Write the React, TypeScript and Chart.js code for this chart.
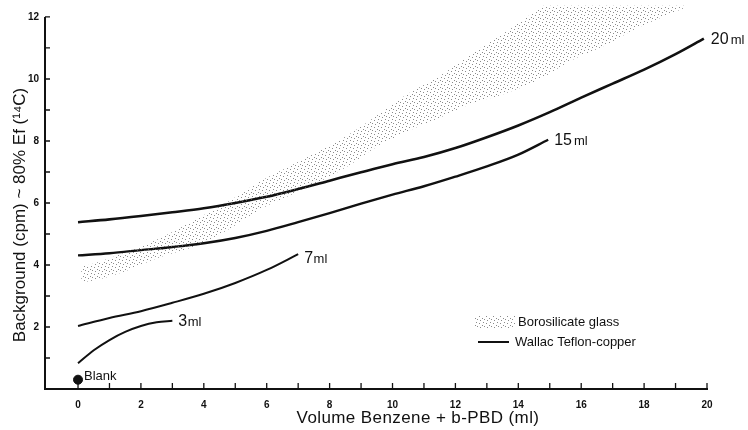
import React, { useEffect, useRef } from "react";
import { Chart, registerables } from "chart.js";

Chart.register(...registerables);

// ---- data ----
const xTickValues = [0, 1, 2, 3, 4, 5, 6, 7, 8, 9, 10, 11, 12, 13, 14, 15, 16, 17, 18, 19, 20];
const yTickValues = [0, 1, 2, 3, 4, 5, 6, 7, 8, 9, 10, 11, 12];

const ml20X = [0, 1, 2, 3, 4, 5, 6, 7, 8, 9, 10, 11, 12, 13, 14, 15, 16, 17, 18, 19, 19.9];
const ml20Y = [5.38, 5.47, 5.58, 5.7, 5.83, 6.0, 6.2, 6.45, 6.72, 6.99, 7.25, 7.48, 7.77, 8.12, 8.5, 8.93, 9.4, 9.85, 10.3, 10.8, 11.3];

const ml15X = [0, 1, 2, 3, 4, 5, 6, 7, 8, 9, 10, 11, 12, 13, 14, 14.95];
const ml15Y = [4.31, 4.38, 4.48, 4.58, 4.7, 4.87, 5.1, 5.38, 5.67, 5.98, 6.27, 6.54, 6.85, 7.18, 7.56, 8.04];

const ml7X = [0, 1, 2, 3, 4, 5, 6, 7];
const ml7Y = [2.03, 2.29, 2.51, 2.78, 3.07, 3.42, 3.84, 4.35];

const ml3X = [0, 0.5, 1, 1.5, 2, 2.5, 3];
const ml3Y = [0.83, 1.25, 1.58, 1.84, 2.03, 2.15, 2.2];

const glassX = [0.1, 0.5, 1.5, 2.6, 3.7, 4.7, 5.8, 6.85, 7.9, 8.6, 9.4, 10.45, 11.5, 12.5, 13.5, 14.7, 15.7, 16.8, 17.7, 19.3];
const glassLow = [3.45, 3.5, 3.8, 4.25, 4.6, 5.1, 5.8, 6.3, 6.8, 7.2, 7.75, 8.3, 8.75, 9.2, 9.5, 10.0, 10.6, 11.1, 11.6, 12.3];
const glassHigh = [3.95, 4.05, 4.4, 4.86, 5.45, 6.0, 6.7, 7.25, 7.8, 8.2, 8.75, 9.5, 10.1, 10.8, 11.45, 12.3, 13.0, 13.5, 13.8, 13.0];

const blankX = [0];
const blankY = [0.3];

const curveNumbers = ["20", "15", "7", "3"];
const curveUnit = "ml";
const blankLabel = "Blank";
const legendLabels = ["Borosilicate glass", "Wallac Teflon-copper"];
const xTitle = "Volume Benzene + b-PBD (ml)";
const yTitle = "Background (cpm) ~ 80% Ef (\u00B9\u2074C)";

const pts = (xs: number[], ys: number[]) => xs.map((x, i) => ({ x, y: ys[i] }));

const INK = "#111";
const FONT = "'Liberation Sans', Arial, sans-serif";

function makePattern(): CanvasPattern | string {
  const c = document.createElement("canvas");
  c.width = 7;
  c.height = 7;
  const g = c.getContext("2d");
  if (!g) return "rgba(0,0,0,0.1)";
  g.fillStyle = "rgba(100,100,100,0.75)";
  const dots = [
    [0, 0],
    [3, 1],
    [6, 3],
    [1, 4],
    [4, 5],
  ];
  dots.forEach(([x, y]) => g.fillRect(x, y, 1, 1));
  const p = g.createPattern(c, "repeat");
  return p || "rgba(0,0,0,0.1)";
}

export default function App() {
  const ref = useRef<HTMLCanvasElement | null>(null);

  useEffect(() => {
    if (!ref.current) return;
    const pattern = makePattern();
    const lineIdx = [2, 3, 4, 5];

    const decor = {
      id: "decor",
      afterDraw(chart: any) {
        const ctx = chart.ctx as CanvasRenderingContext2D;
        const xs = chart.scales.x;
        const ys = chart.scales.y;
        const area = chart.chartArea;
        ctx.save();
        ctx.strokeStyle = INK;
        ctx.fillStyle = INK;
        // axes
        const y0 = ys.getPixelForValue(0);
        const y12 = ys.getPixelForValue(12);
        const x20 = xs.getPixelForValue(20);
        ctx.lineWidth = 2;
        ctx.beginPath();
        ctx.moveTo(area.left, y12);
        ctx.lineTo(area.left, y0 + 1);
        ctx.moveTo(area.left - 1, y0);
        ctx.lineTo(x20 + 1, y0);
        ctx.stroke();
        ctx.lineWidth = 1.3;
        ctx.beginPath();
        yTickValues.forEach((v) => {
          if (v === 0) return;
          const py = ys.getPixelForValue(v);
          ctx.moveTo(area.left, py);
          ctx.lineTo(area.left + 5, py);
        });
        xTickValues.forEach((v) => {
          const px = xs.getPixelForValue(v);
          ctx.moveTo(px, y0);
          ctx.lineTo(px, y0 - 6);
        });
        ctx.stroke();

        // curve labels
        ctx.textBaseline = "middle";
        ctx.textAlign = "left";
        const offs = [
          [7, 1],
          [6, 1],
          [6, 4],
          [6, 1],
        ];
        lineIdx.forEach((di, k) => {
          const meta = chart.getDatasetMeta(di);
          const last = meta.data[meta.data.length - 1];
          if (!last) return;
          let tx = last.x + offs[k][0];
          const ty = last.y + offs[k][1];
          ctx.font = `16px ${FONT}`;
          ctx.fillText(curveNumbers[k], tx, ty);
          tx += ctx.measureText(curveNumbers[k]).width + (k < 2 ? 2 : 0.5);
          ctx.font = `13px ${FONT}`;
          ctx.fillText(curveUnit, tx, ty + 1);
        });

        // blank label
        const bm = chart.getDatasetMeta(6).data[0];
        if (bm) {
          ctx.font = `13px ${FONT}`;
          ctx.fillText(blankLabel, bm.x + 6, bm.y - 3);
        }

        // legend
        ctx.fillStyle = pattern as any;
        ctx.fillRect(475, 316, 40, 13);
        ctx.fillStyle = INK;
        ctx.font = `13px ${FONT}`;
        ctx.fillText(legendLabels[0], 518, 322);
        ctx.lineWidth = 2;
        ctx.beginPath();
        ctx.moveTo(478, 342);
        ctx.lineTo(509, 342);
        ctx.stroke();
        ctx.fillText(legendLabels[1], 515, 342);

        // axis titles
        ctx.font = `17px ${FONT}`;
        ctx.textAlign = "center";
        (ctx as any).letterSpacing = "0.4px";
        ctx.fillText(xTitle, 418, 418);
        ctx.save();
        ctx.translate(20, 215);
        ctx.rotate(-Math.PI / 2);
        (ctx as any).letterSpacing = "0px";
        ctx.fillText(yTitle, 0, 0);
        ctx.restore();
        (ctx as any).letterSpacing = "0px";
        ctx.restore();
      },
    };

    const lineDs = (label: string, xs: number[], ys: number[], w: number) => ({
      label,
      data: pts(xs, ys),
      borderColor: INK,
      borderWidth: w,
      pointRadius: 0,
      fill: false,
      cubicInterpolationMode: "monotone" as const,
    });

    const chart = new Chart(ref.current, {
      type: "line",
      data: {
        datasets: [
          {
            label: "glass-low",
            data: pts(glassX, glassLow),
            borderWidth: 0,
            borderColor: "rgba(0,0,0,0)",
            pointRadius: 0,
            fill: false,
            cubicInterpolationMode: "monotone",
          },
          {
            label: legendLabels[0],
            data: pts(glassX, glassHigh),
            borderWidth: 0,
            borderColor: "rgba(0,0,0,0)",
            backgroundColor: pattern as any,
            pointRadius: 0,
            fill: "-1",
            cubicInterpolationMode: "monotone",
          },
          lineDs("20 ml", ml20X, ml20Y, 2.6),
          lineDs("15 ml", ml15X, ml15Y, 2.4),
          lineDs("7 ml", ml7X, ml7Y, 2),
          lineDs("3 ml", ml3X, ml3Y, 2),
          {
            type: "scatter" as any,
            label: blankLabel,
            data: pts(blankX, blankY),
            pointRadius: 4.5,
            pointBackgroundColor: INK,
            pointBorderColor: INK,
            showLine: false,
          } as any,
        ],
      },
      options: {
        animation: false,
        responsive: false,
        devicePixelRatio: 1,
        layout: { padding: { left: 0, top: 0, right: 9.55, bottom: 0 } },
        plugins: { legend: { display: false }, tooltip: { enabled: false } },
        scales: {
          x: {
            type: "linear",
            min: -1.05,
            max: 21,
            grid: { display: false, drawTicks: false },
            border: { display: false },
            afterBuildTicks: (s: any) => {
              s.ticks = xTickValues.map((v) => ({ value: v }));
            },
            afterFit: (s: any) => {
              s.height = 41;
              s.paddingLeft = 0;
              s.paddingRight = 0;
            },
            ticks: {
              autoSkip: false,
              maxRotation: 0,
              padding: 10,
              color: INK,
              font: { family: FONT, size: 10, weight: "bold" },
              callback: (v: any) => (Number(v) % 2 === 0 ? String(v) : ""),
            },
          },
          y: {
            type: "linear",
            min: 0,
            max: 12.37,
            grid: { display: false, drawTicks: false },
            border: { display: false },
            afterBuildTicks: (s: any) => {
              s.ticks = yTickValues.map((v) => ({ value: v }));
            },
            afterFit: (s: any) => {
              s.width = 45;
              s.paddingTop = 0;
              s.paddingBottom = 0;
            },
            ticks: {
              autoSkip: false,
              padding: 6,
              color: INK,
              font: { family: FONT, size: 10, weight: "bold" },
              callback: (v: any) => (Number(v) >= 2 && Number(v) % 2 === 0 ? String(v) : ""),
            },
          },
        },
      },
      plugins: [decor],
    });
    return () => chart.destroy();
  }, []);

  return (
    <div style={{ position: "absolute", left: 0, top: 0, width: 748, height: 430, background: "#fff" }}>
      <canvas ref={ref} width={748} height={430} style={{ width: 748, height: 430, display: "block" }} />
    </div>
  );
}
